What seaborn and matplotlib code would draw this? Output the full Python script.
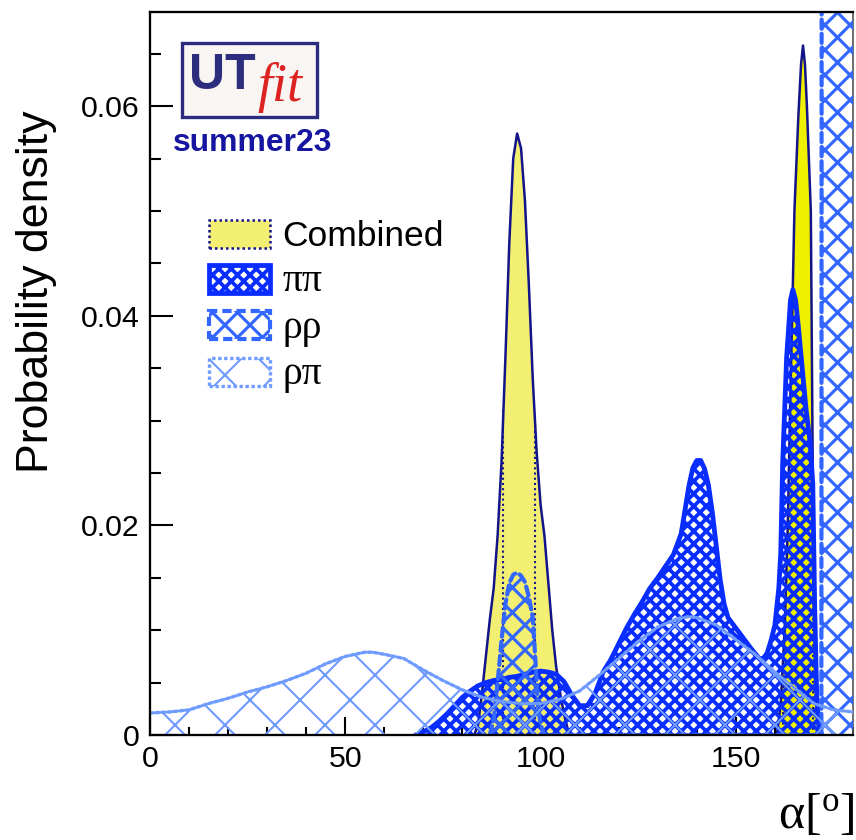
import numpy as np
import pandas as pd
import matplotlib
matplotlib.use("Agg")
import matplotlib.pyplot as plt
import matplotlib.patches as mpatches
from matplotlib.ticker import FixedLocator, MultipleLocator
import seaborn as sns

# ---------------- data ----------------
comb_x = [82, 83, 84, 85, 86, 87, 88, 89, 90, 91, 92, 93, 94, 95, 96, 97, 98, 99, 100,
          101, 102, 103, 104, 105, 106, 107, 108,
          160.5, 161.5, 162.5, 163.3, 164, 164.6, 165, 166, 166.7, 167.2, 167.7, 168.2,
          168.7, 169.2, 169.5, 169.8, 170.2, 170.8, 171.5]
comb_y = [0, 0, 0.001, 0.004, 0.0075, 0.011, 0.014, 0.019, 0.026, 0.036, 0.047, 0.055,
          0.0574, 0.056, 0.051, 0.043, 0.034, 0.027, 0.022, 0.019, 0.0145, 0.010, 0.0065,
          0.004, 0.002, 0.0005, 0,
          0, 0.003, 0.010, 0.020, 0.033, 0.043, 0.050, 0.059, 0.064, 0.0658, 0.064, 0.060,
          0.055, 0.050, 0.035, 0.020, 0.010, 0.004, 0]
comb68_lo = [90.5, 162.0]
comb68_hi = [98.7, 169.8]
comb_bright_lo = 160.0   # the right-hand peak is drawn in the brighter yellow

pipi_x = [68, 70, 72, 74, 76, 78, 80, 82, 84, 86, 88, 90, 92, 94, 96, 98, 100, 102, 104,
          106, 108, 110, 112, 114, 116, 118, 120, 122, 124, 126, 128, 130, 132, 134, 136,
          137, 138, 139, 140, 141, 142, 143, 144, 145, 146, 147, 148, 150, 152, 154, 156,
          157, 158, 159, 160, 161, 161.5, 162, 163, 164, 164.6, 165.3, 166, 167, 168, 169,
          169.7, 170.2, 170.7, 171.2, 172]
pipi_y = [0, 0.0003, 0.0007, 0.0013, 0.002, 0.0028, 0.0036, 0.0042, 0.0047, 0.005, 0.0052,
          0.0053, 0.0055, 0.0056, 0.0058, 0.006, 0.0061, 0.006, 0.0058, 0.0051, 0.0038,
          0.0028, 0.0028, 0.004, 0.006, 0.0072, 0.0087, 0.0102, 0.0115, 0.0127, 0.014,
          0.015, 0.0161, 0.0172, 0.0192, 0.0215, 0.0238, 0.0255, 0.0262, 0.0262, 0.0254,
          0.0238, 0.0212, 0.018, 0.0148, 0.0125, 0.0112, 0.0102, 0.0092, 0.0082, 0.0073,
          0.0073, 0.0078, 0.009, 0.0105, 0.014, 0.0174, 0.026, 0.036, 0.0415, 0.0425,
          0.0415, 0.039, 0.035, 0.031, 0.028, 0.024, 0.012, 0.004, 0.001, 0]

rhorho_x = [87, 88, 89, 90, 91, 92, 93, 94, 95, 96, 97, 98, 98.7, 99.3, 100, 101,
            171.9, 172.0, 180]
rhorho_y = [0, 0.0015, 0.005, 0.009, 0.0125, 0.0145, 0.0153, 0.0155, 0.0152, 0.0146,
            0.0132, 0.0112, 0.007, 0.003, 0.001, 0,
            0, 0.1, 0.1]

rhopi_x = [0, 5, 10, 15, 20, 25, 30, 35, 40, 45, 50, 55, 57, 60, 65, 70, 75, 80, 85, 90,
           95, 100, 105, 110, 115, 120, 125, 130, 135, 138, 140, 145, 150, 155, 160, 165,
           170, 175, 180]
rhopi_y = [0.0021, 0.0022, 0.0024, 0.003, 0.0035, 0.0041, 0.0046, 0.0052, 0.0059, 0.0068,
           0.0075, 0.0079, 0.0079, 0.0077, 0.0073, 0.0062, 0.0052, 0.0043, 0.0036, 0.0032,
           0.003, 0.003, 0.0034, 0.0042, 0.0057, 0.0073, 0.0089, 0.0103, 0.0111, 0.0113,
           0.0112, 0.0105, 0.0091, 0.0077, 0.006, 0.0045, 0.003, 0.0024, 0.0022]

legend_labels = ["Combined", "ππ", "ρρ", "ρπ"]
xticks = [0, 50, 100, 150]
yticks = [0, 0.02, 0.04, 0.06]
ytick_labels = ["0", "0.02", "0.04", "0.06"]

# ---------------- style ----------------
DPI = 150
sns.set_style("ticks")
plt.rcParams["font.family"] = ["Liberation Sans", "DejaVu Sans"]
plt.rcParams["mathtext.fontset"] = "custom"
plt.rcParams["mathtext.rm"] = "Liberation Serif"
plt.rcParams["mathtext.it"] = "Liberation Serif:italic"
for k in ["text.color", "axes.labelcolor", "xtick.color", "ytick.color",
          "xtick.labelcolor", "ytick.labelcolor"]:
    plt.rcParams[k] = "black"

YEL_PALE = "#f2ef72"
YEL = "#efef00"
NAVY = "#14148a"
C_PIPI = "#0a2dff"
C_RR = "#3366ff"
C_RP = "#6f9bff"

HLW_PIPI, HLW_RR, HLW_RP = 1.8, 1.5, 1.0

W, H = 856, 840
fig = plt.figure(figsize=(W / DPI, H / DPI), dpi=DPI)
fig.patch.set_facecolor("white")
L, R, T, B = 150, 853, 12, 735
ax = fig.add_axes([L / W, 1 - B / H, (R - L) / W, (B - T) / H])
ax.set_facecolor("white")


def hatch_fill(x, y, color, hatch, hlw, z):
    with plt.rc_context({"hatch.linewidth": hlw}):
        coll = ax.fill_between(x, 0, y, facecolor="none", edgecolor=color,
                               hatch=hatch, linewidth=0, zorder=z)
    if hasattr(coll, "set_hatch_linewidth"):
        coll.set_hatch_linewidth(hlw)
    return coll


def outline(x, y, color, lw, ls, z):
    df = pd.DataFrame({"alpha": x, "pdf": y})
    sns.lineplot(data=df, x="alpha", y="pdf", ax=ax, color=color, lw=lw,
                 linestyle=ls, sort=False, estimator=None, zorder=z,
                 solid_joinstyle="round", dash_capstyle="round")


cx = np.array(comb_x)
cy = np.array(comb_y)
# combined: pale fill, brighter yellow for the right-hand peak
ax.fill_between(cx, 0, cy, facecolor=YEL_PALE, edgecolor="none", zorder=1)
ax.fill_between(cx, 0, cy, where=cx >= comb_bright_lo, facecolor=YEL,
                edgecolor="none", zorder=1.1)
for lo, hi in zip(comb68_lo, comb68_hi):
    for v in (lo, hi):
        ax.plot([v, v], [0, np.interp(v, cx, cy)], color=NAVY, lw=1.0,
                linestyle=(0, (1, 1.5)), zorder=1.2)
outline(comb_x, comb_y, NAVY, 1.2, "-", 1.3)

# pi pi
hatch_fill(pipi_x, pipi_y, C_PIPI, "xxxx", HLW_PIPI, 2)
outline(pipi_x, pipi_y, C_PIPI, 2.3, "-", 2.1)

# rho rho
hatch_fill(rhorho_x, rhorho_y, C_RR, "xx", HLW_RR, 3)
outline(rhorho_x, rhorho_y, C_RR, 2.0, (0, (2.2, 1.2)), 3.1)

# rho pi
hatch_fill(rhopi_x, rhopi_y, C_RP, "x", HLW_RP, 4)
outline(rhopi_x, rhopi_y, C_RP, 1.6, (0, (1, 0.8)), 4.1)

# ---------------- axes ----------------
ax.set_xlim(0, 180)
ax.set_ylim(0, 0.0690)
ax.xaxis.set_major_locator(FixedLocator(xticks))
ax.xaxis.set_minor_locator(MultipleLocator(10))
ax.yaxis.set_major_locator(FixedLocator(yticks))
ax.set_yticklabels(ytick_labels)
ax.yaxis.set_minor_locator(MultipleLocator(0.005))
ax.set_xticklabels([str(v) for v in xticks])
ax.tick_params(axis="both", which="both", direction="in", width=1.0, color="black",
               labelcolor="black", labelsize=14.5, top=False, right=False)
ax.tick_params(axis="x", which="major", length=8.5, pad=5)
ax.tick_params(axis="x", which="minor", length=4)
ax.tick_params(axis="y", which="major", length=11, pad=5)
ax.tick_params(axis="y", which="minor", length=5.5)
for s in ["left", "bottom", "top"]:
    ax.spines[s].set_visible(True)
    ax.spines[s].set_linewidth(1.1)
    ax.spines[s].set_color("black")
    ax.spines[s].set_zorder(10)
ax.spines["right"].set_visible(True)
ax.spines["right"].set_linewidth(0.8)
ax.spines["right"].set_color("#555555")
ax.set_xlabel("")
ax.set_ylabel("")

fig.text(37 / W, 1 - 292 / H, "Probability density", rotation=90, ha="center",
         va="center", fontsize=21.5, color="black")
fig.text(855 / W, 1 - 838 / H, r"$\mathrm{\alpha}[^{\mathrm{o}}]$", ha="right",
         va="bottom", fontsize=24, color="black")

# ---------------- legend ----------------
def legend_patch(hlw, **kw):
    with plt.rc_context({"hatch.linewidth": hlw}):
        p = mpatches.Patch(**kw)
    if hasattr(p, "set_hatch_linewidth"):
        p.set_hatch_linewidth(hlw)
    return p


handles = [
    legend_patch(1.0, facecolor=YEL_PALE, edgecolor=NAVY, linestyle=(0, (1, 1.2)),
                 linewidth=1.2),
    legend_patch(HLW_PIPI, facecolor="white", edgecolor=C_PIPI, hatch="xxxx",
                 linewidth=2.3),
    legend_patch(HLW_RR, facecolor="white", edgecolor=C_RR, hatch="xx",
                 linewidth=2.0, linestyle=(0, (2.2, 1.2))),
    legend_patch(HLW_RP, facecolor="white", edgecolor=C_RP, hatch="x",
                 linewidth=1.6, linestyle=(0, (1, 0.8))),
]
leg = ax.legend(handles, legend_labels, loc="upper left",
                bbox_to_anchor=(209 / W, 1 - 220 / H), bbox_transform=fig.transFigure,
                frameon=False, fontsize=17, handlelength=1.72, handleheight=0.85,
                handletextpad=0.35, labelspacing=0.27, borderpad=0, borderaxespad=0)
for t in leg.get_texts():
    t.set_color("black")
for t in leg.get_texts()[1:]:
    t.set_fontfamily(["Liberation Serif", "DejaVu Serif"])
    t.set_fontsize(19)
for h, hlw in zip(leg.legend_handles, [1.0, HLW_PIPI, HLW_RR, HLW_RP]):
    if hasattr(h, "set_hatch_linewidth"):
        h.set_hatch_linewidth(hlw)

# ---------------- UTfit logo ----------------
fig.patches.append(mpatches.Rectangle((184 / W, 1 - 119 / H), 135 / W, 74 / H,
                                      transform=fig.transFigure, facecolor="#9a9ab0",
                                      edgecolor="none", zorder=5))
fig.patches.append(mpatches.Rectangle((182 / W, 1 - 117 / H), 135 / W, 74 / H,
                                      transform=fig.transFigure, facecolor="#f9f5f2",
                                      edgecolor="#2b2b80", linewidth=1.6, zorder=6))
fig.text(189 / W, 1 - 89 / H, "UT", fontsize=24, fontweight="bold", color="#2d2d7d",
         ha="left", va="baseline", zorder=7)
fig.text(257 / W, 1 - 101 / H, "fit", fontsize=26, fontstyle="italic", color="#dd2222",
         family=["Liberation Serif", "DejaVu Serif"], ha="left", va="baseline", zorder=7)
fig.text(173 / W, 1 - 151 / H, "summer23", fontsize=15.3, fontweight="bold",
         color="#1515a0", ha="left", va="baseline", zorder=7)

fig.savefig("out.png", dpi=DPI, facecolor="white")
